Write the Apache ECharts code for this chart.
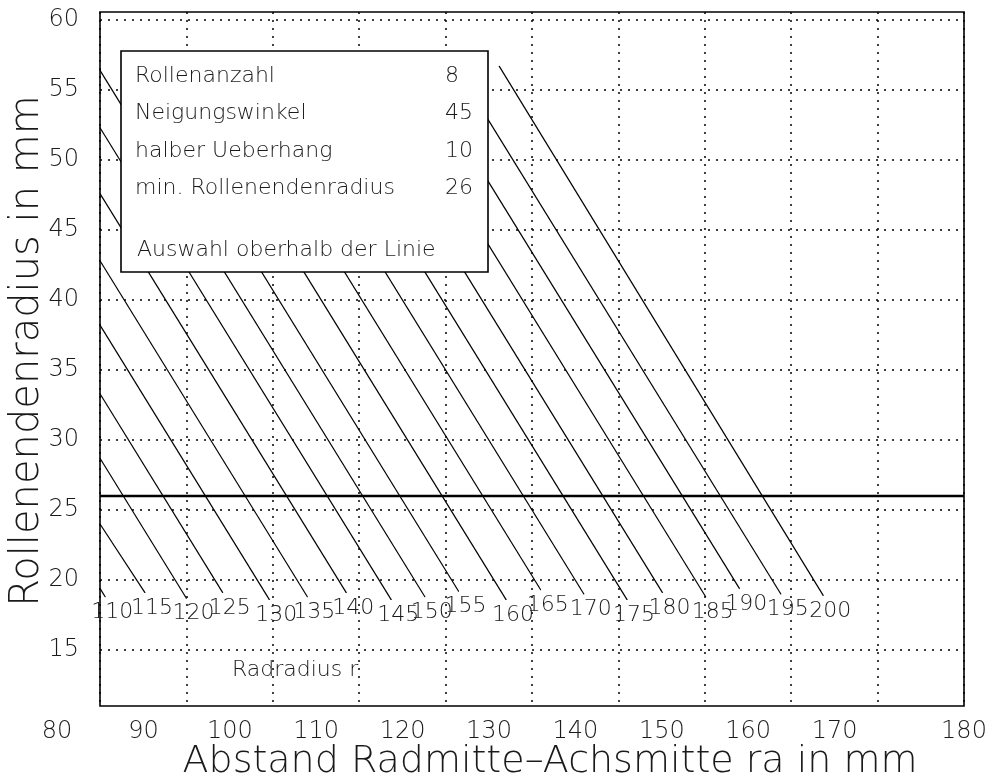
<!DOCTYPE html>
<html><head><meta charset="utf-8">
<script src="https://cdn.jsdelivr.net/npm/echarts@6/dist/echarts.min.js"></script>
<style>html,body{margin:0;background:#fff}#c{width:1002px;height:782px}</style>
</head><body><div id="c"></div>
<script>
// ---- data ----
const radii  = [110, 115, 120, 125, 130, 135, 140, 145, 150, 155, 160, 165, 170, 175, 180, 185, 190, 195, 200];
const startX = [80, 80, 80, 80, 80, 80, 80, 80, 80, 84.0, 88.9, 93.6, 98.3, 102.9, 107.5, 112.2, 116.7, 121.1, 126.2];
const startY = [19.4, 24.0, 28.7, 33.3, 38.2, 42.8, 47.6, 52.3, 56.4, 56.7, 56.7, 56.7, 56.7, 56.7, 56.7, 56.7, 56.7, 56.7, 56.7];
const endX   = [80.6, 85.2, 90.0, 94.2, 99.6, 104.0, 108.5, 113.7, 117.6, 121.5, 127.0, 131.0, 136.0, 141.0, 145.1, 150.1, 154.0, 158.8, 163.7];
const endY   = [18.8, 19.1, 18.7, 19.1, 18.6, 18.8, 19.1, 18.6, 18.8, 19.2, 18.6, 19.3, 19.0, 18.6, 19.1, 18.8, 19.4, 19.0, 18.9];
const xTicks = [80, 90, 100, 110, 120, 130, 140, 150, 160, 170, 180];
const yTicks = [15, 20, 25, 30, 35, 40, 45, 50, 55, 60];
const minRadius = 26;
const infoLabels = ['Rollenanzahl', 'Neigungswinkel', 'halber Ueberhang', 'min. Rollenendenradius'];
const infoValues = ['8', '45', '10', '26'];
const infoNote = 'Auswahl oberhalb der Linie';
const radiusNote = 'Radradius r';
const xTitle = 'Abstand Radmitte\u2013Achsmitte ra in mm';
const yTitle = 'Rollenendenradius in mm';

const FONT = "'DejaVu Sans', sans-serif";
const INK = '#1a1a1a';

const chart = echarts.init(document.getElementById('c'), null, {renderer: 'canvas'});

const series = radii.map((r, i) => ({
  type: 'line',
  data: [
    {value: [startX[i], startY[i]]},
    {value: [endX[i], endY[i]], label: {show: true, formatter: String(r)}}
  ],
  symbol: 'circle', symbolSize: 1,
  itemStyle: {color: '#000'},
  lineStyle: {color: '#000', width: 1.2},
  label: {show: false, position: 'bottom', distance: 0, offset: [7, 4],
          fontSize: 22, fontFamily: FONT, fontWeight: 200, color: INK},
  silent: true, animation: false, z: 3
}));

series.push({
  type: 'line',
  data: [[xTicks[0], minRadius], [xTicks[xTicks.length - 1], minRadius]],
  symbol: 'none',
  lineStyle: {color: '#000', width: 2.6},
  silent: true, animation: false, z: 4
});

const graphics = [{
  type: 'rect', z: 100,
  shape: {x: 121, y: 51, width: 367, height: 221},
  style: {fill: '#fff', stroke: '#000', lineWidth: 1.6}
}];
const rowY = [76, 113, 151, 188];
infoLabels.forEach((t, i) => {
  graphics.push({type: 'text', z: 101, x: 135, y: rowY[i],
    style: {text: t, fontSize: 22, fontFamily: FONT, fontWeight: 200, fill: INK, verticalAlign: 'middle'}});
  graphics.push({type: 'text', z: 101, x: 445, y: rowY[i],
    style: {text: infoValues[i], fontSize: 22, fontFamily: FONT, fontWeight: 200, fill: INK, verticalAlign: 'middle'}});
});
graphics.push({type: 'text', z: 101, x: 137, y: 250,
  style: {text: infoNote, fontSize: 22, fontFamily: FONT, fontWeight: 200, fill: INK, verticalAlign: 'middle'}});
graphics.push({type: 'text', z: 101, x: 232, y: 670,
  style: {text: radiusNote, fontSize: 22, fontFamily: FONT, fontWeight: 200, fill: INK, verticalAlign: 'middle'}});

const lastX = xTicks[xTicks.length - 1];

chart.setOption({
  backgroundColor: '#fff',
  animation: false,
  grid: {left: 100, top: 12, width: 864, height: 694, show: true,
         outerBoundsMode: 'none', containLabel: false,
         borderColor: '#000', borderWidth: 1.6, backgroundColor: 'transparent'},
  xAxis: {
    type: 'value', min: xTicks[0], max: lastX, interval: 10,
    axisLine: {show: false}, axisTick: {show: false},
    splitLine: {show: true, lineStyle: {color: '#000', width: 1.5, type: [2, 6]}},
    axisLabel: {
      margin: 14,
      formatter: v => v === lastX ? '{n|' + v + '}' : '{s|' + v + '}',
      rich: {
        s: {padding: [0, 86, 0, 0], fontSize: 24, fontFamily: FONT, fontWeight: 200, color: INK},
        n: {fontSize: 24, fontFamily: FONT, fontWeight: 200, color: INK}
      }
    },
    name: xTitle, nameLocation: 'middle', nameGap: 37, nameMoveOverlap: false,
    nameTextStyle: {fontSize: 38, fontFamily: FONT, fontWeight: 200, color: INK, padding: [0, 0, 0, 36]}
  },
  yAxis: {
    type: 'value', min: 11, max: 60.57,
    axisLine: {show: false},
    axisTick: {show: false, customValues: yTicks},
    splitLine: {show: true, lineStyle: {color: '#000', width: 1.5, type: [2, 6]}},
    axisLabel: {customValues: yTicks, margin: 21, fontSize: 24, fontFamily: FONT, fontWeight: 200, color: INK},
    name: yTitle, nameLocation: 'middle', nameGap: 52, nameMoveOverlap: false,
    nameTextStyle: {fontSize: 40, fontFamily: FONT, fontWeight: 200, color: INK, padding: [0, 0, 0, 16]}
  },
  graphic: graphics,
  series: series
});
</script>
</body></html>
